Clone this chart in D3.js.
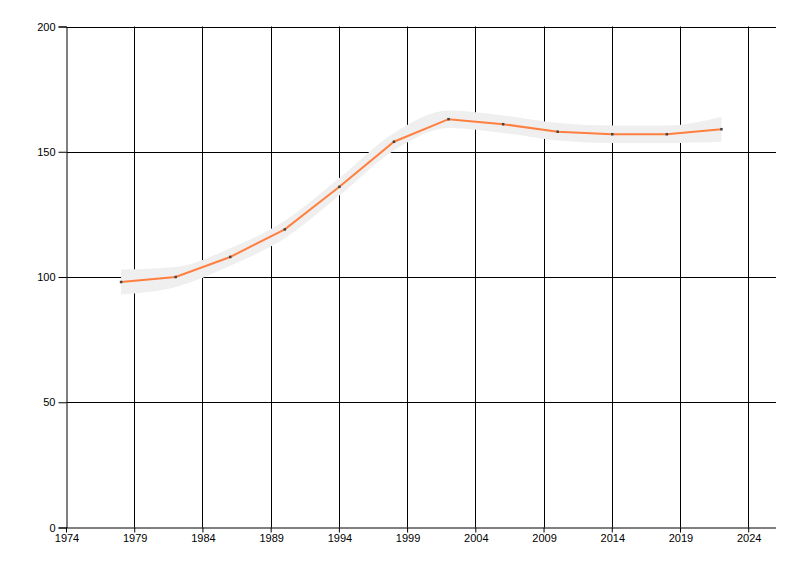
<!DOCTYPE html>
<html><head><meta charset="utf-8">
<script src="https://cdn.jsdelivr.net/npm/d3@7"></script>
<style>body{margin:0;background:#fff}svg{display:block}text{font-family:"Liberation Sans",Arial,sans-serif;font-size:11px;fill:#000}</style>
</head><body><svg id="c" width="800" height="576"></svg>
<script>
const years = [1978,1982,1986,1990,1994,1998,2002,2006,2010,2014,2018,2022];
const values = [98,100,108,119,136,154,163,161,158,157,157,159];
const upper = [103,104,111.5,122.5,139.5,157.5,166.5,164.5,161.5,160.5,160.5,164];
const lower = [93,96,104.5,115.5,132.5,150.5,159.5,157.5,154.5,153.5,153.5,154];
const xTicks = [1974,1979,1984,1989,1994,1999,2004,2009,2014,2019,2024];
const yTicks = [0,50,100,150,200];

const svg = d3.select("#c");
const L=66.5, R=776, T=26.5, B=527.5;
const x = d3.scaleLinear().domain([1974,2026]).range([L,R]);
const y = d3.scaleLinear().domain([0,200]).range([B,T]);

// grid
svg.append("g").selectAll("line").data(xTicks.slice(1)).join("line")
  .attr("x1",d=>Math.floor(x(d))+0.5).attr("x2",d=>Math.floor(x(d))+0.5).attr("y1",T).attr("y2",B)
  .attr("stroke","#000");
svg.append("g").selectAll("line").data(yTicks.slice(1)).join("line")
  .attr("x1",L).attr("x2",R).attr("y1",d=>Math.round(y(d))+0.5).attr("y2",d=>Math.round(y(d))+0.5)
  .attr("stroke","#000");

// band
const data = years.map((yr,i)=>({yr,v:values[i],u:upper[i],l:lower[i]}));
svg.append("path").datum(data)
  .attr("d",d3.area().x(d=>x(d.yr)).y0(d=>y(d.l)).y1(d=>y(d.u)).curve(d3.curveMonotoneX))
  .attr("fill","#efefef");

// axes
const xa = svg.append("g").attr("transform",`translate(0,${B})`)
  .call(d3.axisBottom(x).tickValues(xTicks).tickFormat(d3.format("d")).tickSize(5).tickPadding(2));
const ya = svg.append("g").attr("transform",`translate(${L},0)`)
  .call(d3.axisLeft(y).tickValues(yTicks).tickSize(8).tickPadding(3));
[xa,ya].forEach(a=>{a.selectAll("path,line").attr("stroke","#000");a.selectAll("text").attr("fill","#000").style("font-size","11px").style("font-family","'Liberation Sans',Arial,sans-serif");});
xa.select(".domain").attr("d",`M${L},0.5H${R}`);
xa.selectAll(".tick line").attr("transform",function(){return "translate(-0.5,0)";});

// line
svg.append("path").datum(data)
  .attr("d",d3.line().x(d=>x(d.yr)).y(d=>y(d.v)))
  .attr("fill","none").attr("stroke","#ff7f3f").attr("stroke-width",2);
svg.append("g").selectAll("rect").data(data).join("rect")
  .attr("x",d=>x(d.yr)-1.25).attr("y",d=>y(d.v)-1.25).attr("width",2.5).attr("height",2.5)
  .attr("fill","#444");
</script></body></html>
